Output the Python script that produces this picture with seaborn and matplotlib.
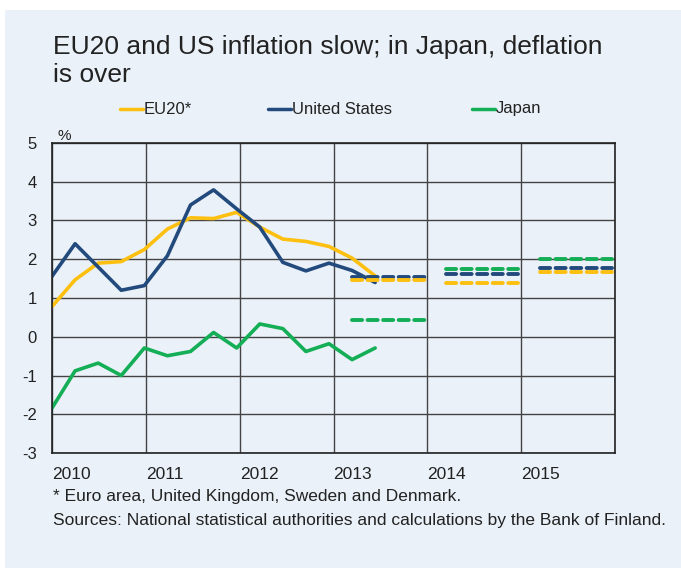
import numpy as np
import pandas as pd
import matplotlib
matplotlib.use("Agg")
import matplotlib.pyplot as plt
import seaborn as sns
from matplotlib.patches import Rectangle

# quarterly observations, 2010Q1 .. 2013Q3
quarter_idx = list(range(15))
eu20 = [0.78, 1.47, 1.90, 1.94, 2.25, 2.78, 3.07, 3.05, 3.21, 2.83, 2.52, 2.46, 2.33, 2.03, 1.57]
united_states = [1.56, 2.40, 1.80, 1.20, 1.32, 2.09, 3.40, 3.79, 3.30, 2.83, 1.92, 1.70, 1.90, 1.71, 1.40]
japan = [-1.84, -0.88, -0.68, -1.00, -0.29, -0.49, -0.38, 0.11, -0.29, 0.33, 0.21, -0.38, -0.18, -0.59, -0.29]

# annual forecasts (dashed)
fc_years = [2013, 2014, 2015]
fc_eu20 = [1.47, 1.38, 1.66]
fc_us = [1.55, 1.61, 1.78]
fc_japan = [0.43, 1.74, 2.00]

series_names = ["EU20*", "United States", "Japan"]
colors = {"EU20*": "#FDC010", "United States": "#234A7C", "Japan": "#13AE55"}
year_ticks = [2010, 2011, 2012, 2013, 2014, 2015]

bg = "#EAF1F8"
sns.set_theme(style="white")
plt.rcParams["font.family"] = ["Liberation Sans Narrow", "Liberation Sans", "DejaVu Sans"]
plt.rcParams["text.color"] = "#222222"
plt.rcParams["axes.unicode_minus"] = False

fig = plt.figure(figsize=(6.81, 5.68), dpi=100)
fig.patch.set_facecolor("white")
fig.patches.append(Rectangle((5 / 681, 0), 1, 558 / 568, transform=fig.transFigure,
                             facecolor=bg, edgecolor="none", zorder=-10))

ax = fig.add_axes([52 / 681, 115 / 568, 563 / 681, 310 / 568])
ax.set_facecolor(bg)

x = [2010 + i * 0.246 for i in quarter_idx]
df = pd.DataFrame({
    "x": x * 3,
    "value": eu20 + united_states + japan,
    "series": sum([[n] * len(x) for n in series_names], []),
})
sns.lineplot(data=df, x="x", y="value", hue="series", palette=colors,
             hue_order=series_names, linewidth=2.6, ax=ax, legend=False)

fc = {"EU20*": fc_eu20, "United States": fc_us, "Japan": fc_japan}
for name in ["Japan", "United States", "EU20*"]:
    for yr, v in zip(fc_years, fc[name]):
        ax.plot([yr + 0.2, yr + 0.97], [v, v], color=colors[name], lw=2.8,
                dashes=(2.6, 1.4), dash_capstyle="round", zorder=3)

ax.set_xlim(2010, 2016)
ax.set_ylim(-3, 5)
ax.set_yticks(range(-3, 6))
ax.set_xticks(year_ticks + [2016])
ax.set_xticklabels([str(y) for y in year_ticks] + [""], ha="left")
ax.grid(True, color="#444444", lw=1.0)
for s in ax.spines.values():
    s.set_color("#222222")
    s.set_linewidth(1.2)
ax.tick_params(axis="both", length=0, labelsize=12, colors="#222222")
ax.tick_params(axis="x", labelsize=12.5, pad=10)
ax.tick_params(axis="y", pad=11)
ax.set_xlabel("")
ax.set_ylabel("")
ax.text(0.01, 1.0, "%", transform=ax.transAxes, fontsize=11, va="bottom", ha="left")

fig.text(53 / 681, 1 - 35 / 568, "EU20 and US inflation slow; in Japan, deflation\nis over",
         fontsize=19, va="top", ha="left", linespacing=1.22)

leg_y = 1 - 109 / 568
for name, lx in zip(series_names, [120, 268, 472]):
    fig.add_artist(plt.Line2D([lx / 681, (lx + 23) / 681], [leg_y, leg_y],
                              color=colors[name], lw=2.5, transform=fig.transFigure))
    fig.text((lx + 24) / 681, leg_y, name, fontsize=12, va="center", ha="left")

fig.text(53 / 681, 1 - 497 / 568, "* Euro area, United Kingdom, Sweden and Denmark.",
         fontsize=12.5, va="center", ha="left")
fig.text(53 / 681, 1 - 520 / 568,
         "Sources: National statistical authorities and calculations by the Bank of Finland.",
         fontsize=12.5, va="center", ha="left")

fig.savefig("out.png", dpi=100, facecolor=fig.get_facecolor())
